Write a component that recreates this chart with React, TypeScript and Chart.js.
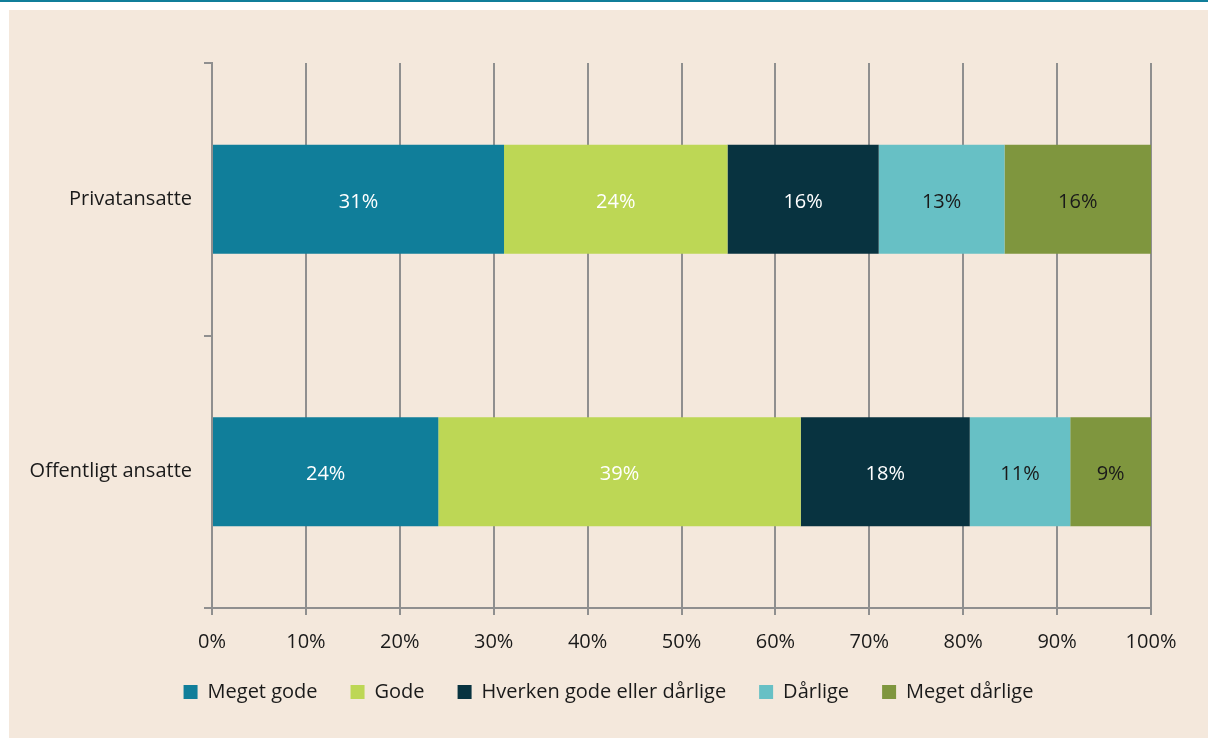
import React, { useEffect, useRef } from "react";
import { Chart, registerables } from "chart.js";

Chart.register(...registerables);

const categories = ["Privatansatte", "Offentligt ansatte"];
const seriesNames = ["Meget gode", "Gode", "Hverken gode eller dårlige", "Dårlige", "Meget dårlige"];
const megetGode = [31.1, 24.1];
const gode = [23.8, 38.6];
const hverken = [16.1, 18.0];
const daarlige = [13.4, 10.7];
const megetDaarlige = [15.6, 8.6];
const seriesColors = ["#107E9A", "#BDD755", "#083340", "#67C0C5", "#7F963E"];
const labelColors = ["#ffffff", "#ffffff", "#ffffff", "#1a1a1a", "#1a1a1a"];
const xTicks = [0, 10, 20, 30, 40, 50, 60, 70, 80, 90, 100];

const FONT = "'Open Sans', 'Noto Sans', sans-serif";
const GRID = "#8f8f8f";
const FS = 20;

const barLabelPlugin = {
  id: "barLabels",
  afterDatasetsDraw(chart: any) {
    const ctx = chart.ctx;
    ctx.save();
    ctx.font = `${FS}px ${FONT}`;
    ctx.textAlign = "center";
    ctx.textBaseline = "middle";
    chart.data.datasets.forEach((ds: any, di: number) => {
      const meta = chart.getDatasetMeta(di);
      meta.data.forEach((el: any, i: number) => {
        const v = ds.data[i];
        const cx = (el.x + el.base) / 2;
        ctx.fillStyle = labelColors[di];
        ctx.fillText(Math.round(v) + "%", cx, el.y + 3);
      });
    });
    ctx.restore();
  },
};

export default function App() {
  const ref = useRef<HTMLCanvasElement>(null);
  useEffect(() => {
    const values = [megetGode, gode, hverken, daarlige, megetDaarlige];
    const chart = new Chart(ref.current!, {
      type: "bar",
      data: {
        labels: categories,
        datasets: seriesNames.map((name, i) => ({
          label: name,
          data: values[i],
          backgroundColor: seriesColors[i],
          borderWidth: 0,
          barPercentage: 0.4,
          categoryPercentage: 1,
        })),
      },
      options: {
        indexAxis: "y",
        animation: false,
        responsive: false,
        maintainAspectRatio: false,
        layout: { padding: { top: 53, right: 0, left: 0, bottom: 26 } },
        plugins: {
          legend: {
            position: "bottom",
            labels: {
              font: { family: FONT, size: FS },
              color: "#1a1a1a",
              boxWidth: 14,
              boxHeight: 14,
              padding: 33,
            },
          },
          tooltip: { enabled: false },
        },
        scales: {
          x: {
            stacked: true,
            min: 0,
            max: 100,
            afterBuildTicks(scale: any) {
              scale.ticks = xTicks.map((v) => ({ value: v }));
            },
            afterFit(scale: any) {
              scale.height = 41;
              // let tick labels extend into the legend band without clipping
              scale._computeLabelArea = () => undefined;
            },
            ticks: {
              callback: (v: any) => v + "%",
              font: { family: FONT, size: FS },
              color: "#1a1a1a",
              padding: 15,
            },
            grid: { color: GRID, lineWidth: 2, tickLength: 7, drawTicks: true },
            border: { color: GRID, width: 2 },
          },
          y: {
            stacked: true,
            afterFit(scale: any) {
              scale.width = 203;
            },
            ticks: {
              font: { family: FONT, size: FS },
              color: "#1a1a1a",
              padding: 12,
            },
            grid: {
              offset: true,
              drawOnChartArea: false,
              color: GRID,
              lineWidth: 2,
              tickLength: 8,
            },
            border: { color: GRID, width: 2 },
          },
          yRight: {
            type: "category",
            position: "right",
            display: true,
            afterFit(scale: any) {
              scale.width = 57;
            },
            ticks: { display: false },
            grid: { display: false },
            border: { display: false },
          },
        },
      },
      plugins: [barLabelPlugin],
    } as any);
    return () => chart.destroy();
  }, []);
  return (
    <div style={{ position: "fixed", left: 0, top: 0, width: 1208, height: 738, background: "#ffffff" }}>
      <div style={{ position: "absolute", left: 0, top: 0, width: 1208, height: 2, background: "#107E9A" }} />
      <div style={{ position: "absolute", left: 9, top: 10, width: 1199, height: 728, background: "#F4E8DC" }}>
        <canvas ref={ref} width={1199} height={728} style={{ display: "block" }} />
      </div>
    </div>
  );
}
